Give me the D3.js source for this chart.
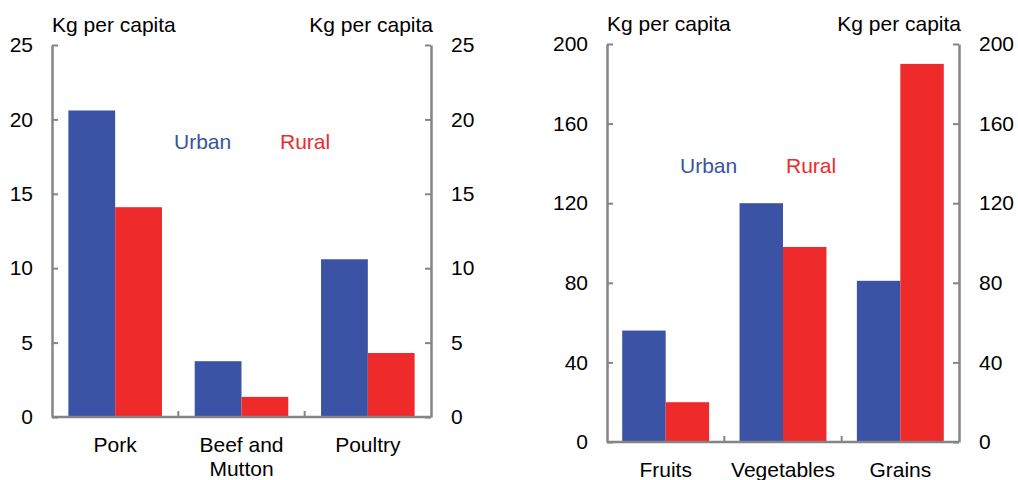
<!DOCTYPE html>
<html>
<head>
<meta charset="utf-8">
<script src="https://cdn.jsdelivr.net/npm/d3@7"></script>
<style>
  body { margin: 0; background: #fff; }
  svg text { font-family: "Liberation Sans", Arial, sans-serif; font-size: 21px; fill: #000; }
</style>
</head>
<body>
<svg id="chart" width="1018" height="480"></svg>
<script>
// meat panel
const meatCategories = ["Pork", "Beef and\nMutton", "Poultry"]
const meatUrban = [20.6, 3.75, 10.6]
const meatRural = [14.1, 1.35, 4.3]
const meatTicks = [0, 5, 10, 15, 20, 25]

// fruit / veg / grain panel
const foodCategories = ["Fruits", "Vegetables", "Grains"]
const foodUrban = [56, 120, 81]
const foodRural = [20, 98, 190]
const foodTicks = [0, 40, 80, 120, 160, 200]

const seriesNames = ["Urban", "Rural"]
const colors = {Urban: "#3A53A4", Rural: "#EE2A2A"}
const axisColor = "#858585"

const svg = d3.select("#chart")

function drawPanel(p) {
  const g = svg.append("g")
  const y = d3.scaleLinear().domain([0, d3.max(p.ticks)]).range([p.bottom, p.top])
  const x = d3.scaleBand().domain(p.categories).range([p.left, p.right])
  const xs = d3.scaleBand().domain(seriesNames).range([0, x.bandwidth()]).paddingOuter(0.35)

  const rows = p.categories.map((c, i) => ({cat: c, Urban: p.urban[i], Rural: p.rural[i]}))

  // bars
  rows.forEach(r => {
    seriesNames.forEach(s => {
      g.append("rect")
        .attr("x", x(r.cat) + xs(s))
        .attr("y", y(r[s]))
        .attr("width", xs.bandwidth())
        .attr("height", y(0) - y(r[s]))
        .attr("fill", colors[s])
    })
  })

  // left + right axes, ticks pointing inward
  const leftAxis = d3.axisLeft(y).tickValues(p.ticks).tickSizeInner(-6).tickSizeOuter(0).tickPadding(19)
  const rightAxis = d3.axisRight(y).tickValues(p.ticks).tickSizeInner(-6).tickSizeOuter(0).tickPadding(20)
  const la = g.append("g").attr("transform", `translate(${p.left},0)`).call(leftAxis)
  const ra = g.append("g").attr("transform", `translate(${p.right},0)`).call(rightAxis)
  ;[la, ra].forEach(a => {
    a.select(".domain").attr("stroke", axisColor).attr("stroke-width", 2.5)
    a.selectAll(".tick line").attr("stroke", axisColor).attr("stroke-width", 2)
    a.selectAll(".tick text").attr("font-size", 20).attr("font-family", "Liberation Sans, Arial, sans-serif").attr("fill", "#000")
  })

  // bottom axis with separators between categories
  g.append("line")
    .attr("x1", p.left).attr("x2", p.right)
    .attr("y1", y(0)).attr("y2", y(0))
    .attr("stroke", axisColor).attr("stroke-width", 2.5)
  g.selectAll(".sep").data(p.categories.slice(1)).enter().append("line")
    .attr("x1", d => x(d)).attr("x2", d => x(d))
    .attr("y1", y(0)).attr("y2", y(0) - 6)
    .attr("stroke", axisColor).attr("stroke-width", 2)

  // category labels
  p.categories.forEach(c => {
    const t = g.append("text")
      .attr("x", x(c) + x.bandwidth() / 2)
      .attr("y", y(0) + 35)
      .attr("text-anchor", "middle")
    c.split("\n").forEach((line, i) => {
      t.append("tspan").attr("x", x(c) + x.bandwidth() / 2).attr("dy", i ? 24 : 0).text(line)
    })
  })

  // unit labels
  g.append("text").attr("x", p.left).attr("y", p.top - 13).text("Kg per capita")
  g.append("text").attr("x", p.right + 2).attr("y", p.top - 13).attr("text-anchor", "end").text("Kg per capita")

  // legend
  g.append("text").attr("x", p.legendX).attr("y", p.legendY).style("fill", colors.Urban).text("Urban")
  g.append("text").attr("x", p.legendX + 106).attr("y", p.legendY).style("fill", colors.Rural).text("Rural")
}

drawPanel({
  categories: meatCategories, urban: meatUrban, rural: meatRural, ticks: meatTicks,
  left: 52, right: 431, top: 45, bottom: 417, legendX: 174, legendY: 149
})

drawPanel({
  categories: foodCategories, urban: foodUrban, rural: foodRural, ticks: foodTicks,
  left: 607, right: 959, top: 44, bottom: 442, legendX: 680, legendY: 173
})
</script>
</body>
</html>
